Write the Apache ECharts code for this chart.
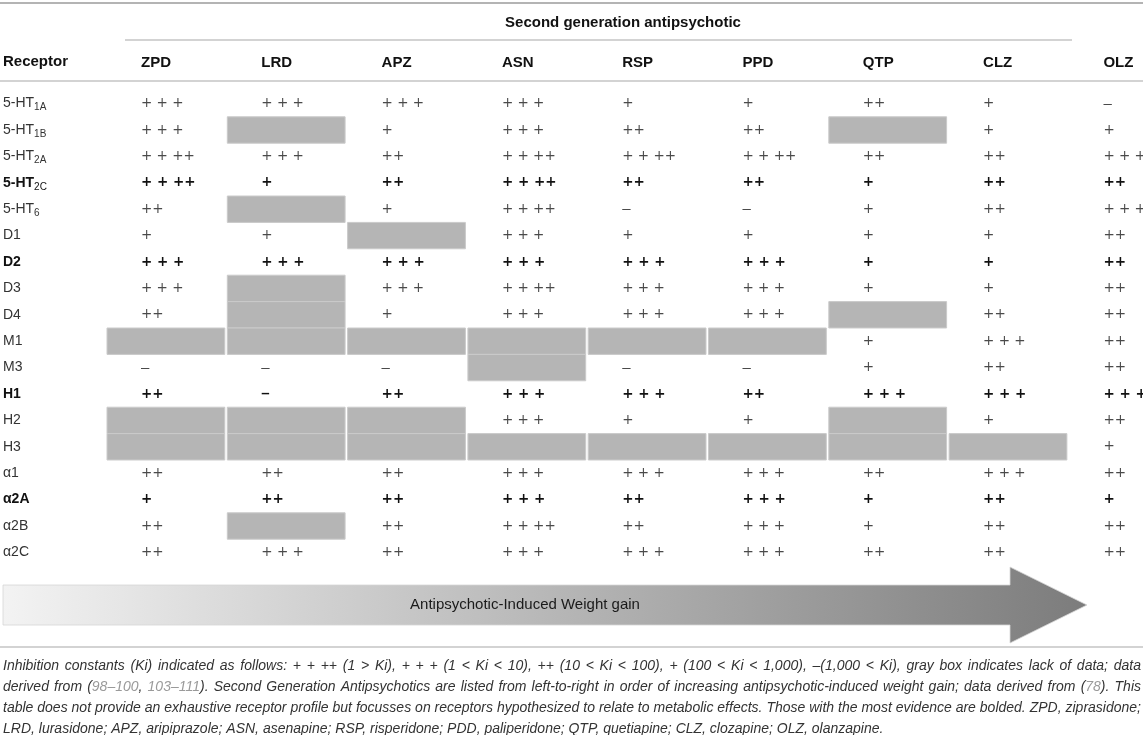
<!DOCTYPE html>
<html>
<head>
<meta charset="utf-8">
<title>Receptor profile of second generation antipsychotics</title>
<script src="https://cdn.jsdelivr.net/npm/echarts/dist/echarts.min.js"></script>
<style>
  html, body { margin: 0; padding: 0; background: #fff; }
  #tableChart { width: 1143px; height: 735px; }
</style>
</head>
<body>
<div id="tableChart"></div>
<script>
// columns, left to right = increasing weight gain
var drugs = ['ZPD', 'LRD', 'APZ', 'ASN', 'RSP', 'PPD', 'QTP', 'CLZ', 'OLZ'];
var receptors = ['5-HT1A', '5-HT1B', '5-HT2A', '5-HT2C', '5-HT6', 'D1', 'D2', 'D3', 'D4',
                 'M1', 'M3', 'H1', 'H2', 'H3', 'α1', 'α2A', 'α2B', 'α2C'];
var boldReceptors = ['5-HT2C', 'D2', 'H1', 'α2A'];

// Ki class per receptor (same order as receptors), null = gray box, no data
var zpd = ['+++', '+++', '++++', '++++', '++', '+', '+++', '+++', '++', null, '-', '++', null, null, '++', '+', '++', '++'];
var lrd = ['+++', null, '+++', '+', null, '+', '+++', null, null, null, '-', '-', null, null, '++', '++', null, '+++'];
var apz = ['+++', '+', '++', '++', '+', null, '+++', '+++', '+', null, '-', '++', null, null, '++', '++', '++', '++'];
var asn = ['+++', '+++', '++++', '++++', '++++', '+++', '+++', '++++', '+++', null, null, '+++', '+++', null, '+++', '+++', '++++', '+++'];
var rsp = ['+', '++', '++++', '++', '-', '+', '+++', '+++', '+++', null, '-', '+++', '+', null, '+++', '++', '++', '+++'];
var ppd = ['+', '++', '++++', '++', '-', '+', '+++', '+++', '+++', null, '-', '++', '+', null, '+++', '+++', '+++', '+++'];
var qtp = ['++', null, '++', '+', '+', '+', '+', '+', null, '+', '+', '+++', null, null, '++', '+', '+', '++'];
var clz = ['+', '+', '++', '++', '++', '+', '+', '+', '++', '+++', '++', '+++', '+', null, '+++', '++', '++', '++'];
var olz = ['-', '+', '+++', '++', '+++', '++', '++', '++', '++', '++', '++', '+++', '++', '+', '++', '+', '++', '++'];
var kiByDrug = [zpd, lrd, apz, asn, rsp, ppd, qtp, clz, olz];

var kiClasses = ['-', '+', '++', '+++', '++++'];
var kiShown = ['–', '+', '++', '+ + +', '+ + ++'];

var cellData = [];
kiByDrug.forEach(function (col, i) {
	col.forEach(function (k, j) {
		cellData.push([i, j, k === null ? -1 : kiClasses.indexOf(k)]);
	});
});

function isBold(r) { return boldReceptors.indexOf(r) >= 0; }

function renderCell(params, api) {
	var p = api.coord([api.value(0), api.value(1)]);
	var s = api.size([1, 1]);
	var lvl = api.value(2);
	if (lvl < 0) {
		return {
			type: 'rect',
			shape: { x: p[0] - 34, y: p[1] - s[1] / 2, width: s[0] - 2.5, height: s[1] },
			style: { fill: '#b5b5b5', stroke: '#cbcbcb', lineWidth: 1 }
		};
	}
	var bold = isBold(receptors[api.value(1)]);
	return {
		type: 'text',
		x: p[0], y: p[1],
		style: {
			text: kiShown[lvl],
			fill: bold ? '#111' : '#4a4a4a',
			// the dash reads better in the sans face, pluses in DejaVu
			fontFamily: lvl === 0 ? 'Liberation Sans' : 'DejaVu Sans',
			fontSize: lvl === 0 ? 15 : 13.5,
			fontWeight: bold ? 'bold' : 'normal',
			align: 'left',
			verticalAlign: 'middle'
		}
	};
}

var footGray = '#9a9a9a';
var footFont = 'italic 14px "Liberation Sans"';
var footLines = [
	'Inhibition constants (Ki) indicated as follows: + + ++ (1 > Ki), + + + (1 < Ki < 10), ++ (10 < Ki < 100), + (100 < Ki < 1,000), –(1,000 < Ki), gray box indicates lack of data; data',
	'derived from ({g|98–100}, {g|103–111}). Second Generation Antipsychotics are listed from left-to-right in order of increasing antipsychotic-induced weight gain; data derived from ({g|78}). This',
	'table does not provide an exhaustive receptor profile but focusses on receptors hypothesized to relate to metabolic effects. Those with the most evidence are bolded. ZPD, ziprasidone;',
	'LRD, lurasidone; APZ, aripiprazole; ASN, asenapine; RSP, risperidone; PDD, paliperidone; QTP, quetiapine; CLZ, clozapine; OLZ, olanzapine.'
];

var graphics = [
	{ type: 'line', shape: { x1: 0, y1: 3, x2: 1143, y2: 3 }, style: { stroke: '#b4b4b4', lineWidth: 2 } },
	{ type: 'line', shape: { x1: 125, y1: 40, x2: 1072, y2: 40 }, style: { stroke: '#c4c4c4', lineWidth: 1.5 } },
	{ type: 'line', shape: { x1: 0, y1: 81, x2: 1143, y2: 81 }, style: { stroke: '#c4c4c4', lineWidth: 1.5 } },
	{ type: 'line', shape: { x1: 0, y1: 647, x2: 1143, y2: 647 }, style: { stroke: '#c4c4c4', lineWidth: 1.5 } },
	{ type: 'text', x: 623, y: 23, style: { text: 'Second generation antipsychotic', font: 'bold 15px "Liberation Sans"', fill: '#111', align: 'center', verticalAlign: 'middle' } },
	{ type: 'text', x: 3, y: 62, style: { text: 'Receptor', font: 'bold 15px "Liberation Sans"', fill: '#111', align: 'left', verticalAlign: 'middle' } },
	// weight gain arrow
	{
		type: 'polygon',
		shape: { points: [[3, 585], [1010, 585], [1010, 567], [1087, 605], [1010, 643], [1010, 625], [3, 625]] },
		style: {
			fill: { type: 'linear', x: 0, y: 0, x2: 1, y2: 0, colorStops: [{ offset: 0, color: '#f3f3f3' }, { offset: 1, color: '#7c7c7c' }] },
			stroke: '#d6d6d6', lineWidth: 0.8
		}
	},
	{ type: 'text', x: 525, y: 605, style: { text: 'Antipsychotic-Induced Weight gain', font: '15px "Liberation Sans"', fill: '#1a1a1a', align: 'center', verticalAlign: 'middle' } }
];

// footnote is justified like the journal table: place word by word
var measureCtx = document.createElement('canvas').getContext('2d');
measureCtx.font = footFont;
footLines.forEach(function (line, li) {
	var words = line.split(' ');
	var widths = words.map(function (w) {
		return measureCtx.measureText(w.replace(/\{g\|([^}]*)\}/g, '$1')).width;
	});
	var total = widths.reduce(function (a, b) { return a + b; }, 0);
	var last = li === footLines.length - 1;
	var gap = last ? measureCtx.measureText(' ').width : (1138 - total) / (words.length - 1);
	var x = 3;
	words.forEach(function (w, wi) {
		graphics.push({
			type: 'text', x: x, y: 666 + li * 21,
			style: {
				text: w, fill: '#333', font: footFont,
				align: 'left', verticalAlign: 'middle',
				rich: { g: { fill: footGray, color: footGray, font: footFont } }
			}
		});
		x += widths[wi] + gap;
	});
});

var tableOption = {
	animation: false,
	textStyle: { fontFamily: 'Liberation Sans' },
	grid: { left: 141, right: 39.6, top: 90.4, bottom: 169.4, containLabel: false },
	xAxis: {
		type: 'category',
		position: 'top',
		data: drugs,
		boundaryGap: false,
		axisLine: { show: false },
		axisTick: { show: false },
		splitLine: { show: false },
		axisLabel: {
			interval: 0, margin: 28, align: 'left', verticalAlign: 'middle',
			fontSize: 15, fontWeight: 'bold', color: '#111'
		}
	},
	yAxis: {
		type: 'category',
		data: receptors,
		inverse: true,
		axisLine: { show: false },
		axisTick: { show: false },
		splitLine: { show: false },
		axisLabel: {
			interval: 0, margin: 138, align: 'left',
			formatter: function (v) {
				var b = isBold(v);
				var m = v.match(/^5-HT(.+)$/);
				if (m) return '{' + (b ? 'hb' : 'h') + '|5-HT}{' + (b ? 'sb' : 's') + '|' + m[1] + '}';
				return '{' + (b ? 'hb' : 'h') + '|' + v + '}';
			},
			rich: {
				h: { fontSize: 14, color: '#333', fontFamily: 'Liberation Sans' },
				hb: { fontSize: 14, color: '#111', fontWeight: 'bold', fontFamily: 'Liberation Sans' },
				s: { fontSize: 10, color: '#333', padding: [8, 0, 0, 0], fontFamily: 'Liberation Sans' },
				sb: { fontSize: 10, color: '#111', padding: [8, 0, 0, 0], fontFamily: 'Liberation Sans' }
			}
		}
	},
	graphic: graphics,
	series: [
		{
			name: 'Ki',
			type: 'custom',
			renderItem: renderCell,
			clip: false,
			data: cellData,
			z: 3
		}
	]
};

var tableChart = echarts.init(document.getElementById('tableChart'));
tableChart.setOption(tableOption);
</script>
</body>
</html>
